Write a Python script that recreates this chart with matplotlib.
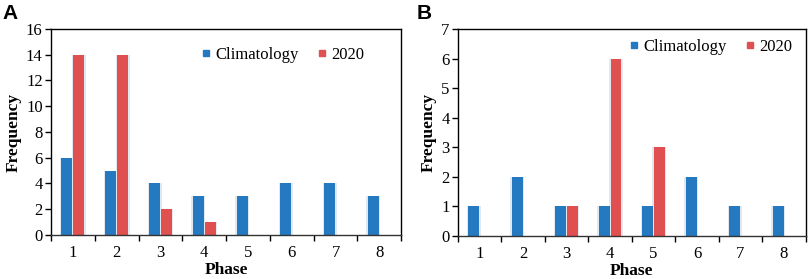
import matplotlib
matplotlib.use("Agg")
import matplotlib.pyplot as plt
from matplotlib.lines import Line2D

plt.rcParams['font.family'] = ['Liberation Serif', 'DejaVu Serif']

phases = [1, 2, 3, 4, 5, 6, 7, 8]

# panel A
clim_a = [6, 5, 4, 3, 3, 4, 4, 3]
y2020_a = [14, 14, 2, 1, 0, 0, 0, 0]

# panel B
clim_b = [1, 2, 1, 1, 1, 2, 1, 1]
y2020_b = [0, 0, 1, 6, 3, 0, 0, 0]

BLUE = '#2479c0'
RED = '#e05050'
SHADOW = '#e2e8f0'


def draw_panel(ax, clim, y2020, ymax, ystep, leg_xy):
    w = 0.25
    off = 0.135
    xs = list(phases)
    xc = [x - off for x in xs]
    xr = [x + off for x in xs]
    # faint shadow behind bars
    ax.bar(xc, clim, width=w + 0.07, color=SHADOW, zorder=1)
    ax.bar([x for x, v in zip(xr, y2020) if v > 0], [v for v in y2020 if v > 0],
           width=w + 0.07, color=SHADOW, zorder=1)
    ax.bar(xc, clim, width=w, color=BLUE, zorder=2)
    ax.bar(xr, y2020, width=w, color=RED, zorder=2)

    ax.set_xlim(0.5, 8.5)
    ax.set_ylim(0, ymax)
    ax.set_yticks(range(0, ymax + 1, ystep))
    ax.set_xticks([i + 0.5 for i in range(0, 9)])
    ax.set_xticklabels([])
    ax.set_xticks(xs, minor=True)
    ax.set_xticklabels([str(p) for p in phases], minor=True)
    ax.tick_params(axis='x', which='minor', length=0, labelsize=12, pad=7)
    ax.tick_params(axis='x', which='major', length=4, width=1, direction='out')
    ax.tick_params(axis='y', length=4, width=1, labelsize=12, pad=2)
    for s in ax.spines.values():
        s.set_linewidth(1)
    ax.spines['bottom'].set_color('#333333')

    ax.set_xlabel('Phase', fontweight='bold', fontsize=12.5, labelpad=1)
    ax.set_ylabel('Frequency', fontweight='bold', fontsize=12.5, labelpad=3)

    handles = [Line2D([], [], marker='s', ls='', color=BLUE, markersize=4.5),
               Line2D([], [], marker='s', ls='', color=RED, markersize=4.5)]
    ax.legend(handles, ['Climatology', '2020'], ncol=2, frameon=False,
              loc='center left', bbox_to_anchor=leg_xy, fontsize=12,
              handlelength=0.5, handletextpad=0.3, columnspacing=1.15,
              borderpad=0, borderaxespad=0)


fig = plt.figure(figsize=(8.09, 2.79), dpi=100)
ax1 = fig.add_axes([0.063, 0.158, 0.433, 0.738])
ax2 = fig.add_axes([0.566, 0.154, 0.430, 0.742])

draw_panel(ax1, clim_a, y2020_a, 16, 2, (0.43, 0.874))
draw_panel(ax2, clim_b, y2020_b, 7, 1, (0.495, 0.913))

fig.text(2 / 809, 1 - 19 / 279, 'A', fontsize=15, fontweight='bold',
         family='Liberation Sans', va='baseline', ha='left')
fig.text(417 / 809, 1 - 19 / 279, 'B', fontsize=15, fontweight='bold',
         family='Liberation Sans', va='baseline', ha='left')

fig.savefig('out.png', dpi=100)
